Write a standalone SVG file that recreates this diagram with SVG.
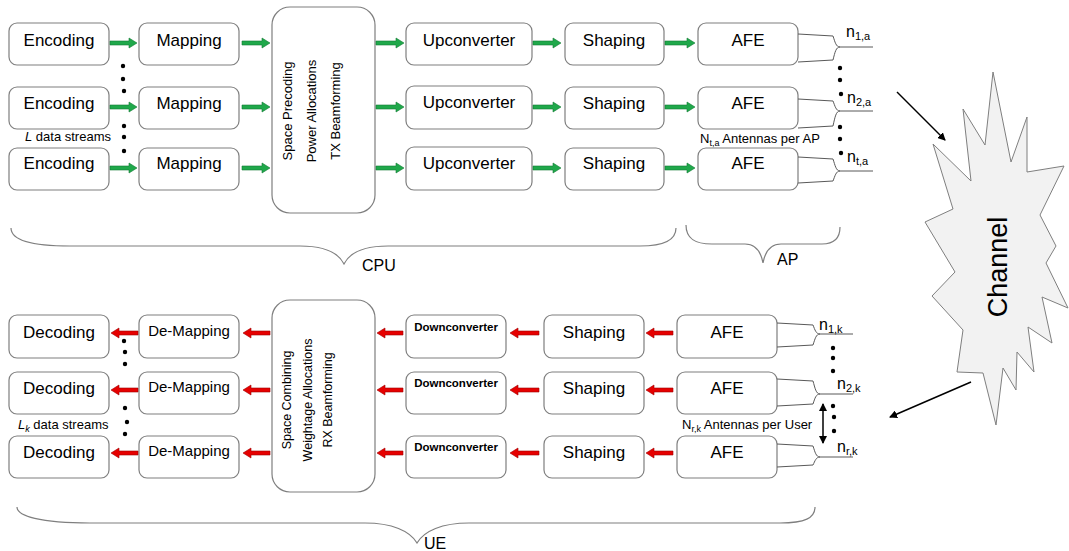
<svg xmlns="http://www.w3.org/2000/svg" width="1069" height="551" viewBox="0 0 1069 551">
<defs>
<style>
.box{fill:#fff;stroke:#7f7f7f;stroke-width:1.2}
.t{font-family:"Liberation Sans",Arial,sans-serif;fill:#000;text-anchor:middle}
.l17{font-size:17px}
.l15{font-size:15px}
.dc{font-size:11.5px;font-weight:bold}
.v13{font-size:13px}
.v12{font-size:12.5px}
.s{font-family:"Liberation Sans",Arial,sans-serif;fill:#000}
.ga{fill:#1fa84a;stroke:#127a34;stroke-width:0.6}
.ra{fill:#e60000;stroke:#a00000;stroke-width:0.6}
.ant{fill:none;stroke:#595959;stroke-width:1}
.brace{fill:none;stroke:#7f7f7f;stroke-width:1.2}
.dot{fill:#000}
.blk{stroke:#000;stroke-width:1.5;fill:none}
</style>
<marker id="ah" markerWidth="8" markerHeight="8" refX="7" refY="4" orient="auto" markerUnits="userSpaceOnUse">
<path d="M0,0 L8,4 L0,8 Z" fill="#000"/>
</marker>
<marker id="ahs" markerWidth="8" markerHeight="8" refX="1" refY="4" orient="auto" markerUnits="userSpaceOnUse">
<path d="M8,0 L0,4 L8,8 Z" fill="#000"/>
</marker>
</defs>
<rect width="1069" height="551" fill="#fff"/>

<!-- Top (transmit) nodes -->
<g id="enc1"><rect class="box" x="9" y="23" width="100" height="42" rx="8"/><text class="t l17" x="59" y="46">Encoding</text></g>
<g id="enc2"><rect class="box" x="9" y="87" width="100" height="42" rx="8"/><text class="t l17" x="59" y="109">Encoding</text></g>
<g id="enc3"><rect class="box" x="9" y="148" width="100" height="42" rx="8"/><text class="t l17" x="59" y="169">Encoding</text></g>
<g id="map1"><rect class="box" x="139" y="23" width="100" height="42" rx="8"/><text class="t l17" x="189" y="46">Mapping</text></g>
<g id="map2"><rect class="box" x="139" y="87" width="100" height="42" rx="8"/><text class="t l17" x="189" y="109">Mapping</text></g>
<g id="map3"><rect class="box" x="139" y="148" width="100" height="42" rx="8"/><text class="t l17" x="189" y="169">Mapping</text></g>
<g id="precoder"><rect class="box" x="272" y="7" width="103" height="206" rx="18"/>
<text class="t v13" transform="translate(292,111) rotate(-90)">Space Precoding</text>
<text class="t v13" transform="translate(316,111) rotate(-90)">Power Allocations</text>
<text class="t v13" transform="translate(340,111) rotate(-90)">TX Beamforming</text></g>
<g id="up1"><rect class="box" x="406" y="23" width="126" height="42" rx="8"/><text class="t l17" x="469" y="46">Upconverter</text></g>
<g id="up2"><rect class="box" x="406" y="86" width="126" height="43" rx="8"/><text class="t l17" x="469" y="108">Upconverter</text></g>
<g id="up3"><rect class="box" x="406" y="147" width="126" height="43" rx="8"/><text class="t l17" x="469" y="169">Upconverter</text></g>
<g id="shp1"><rect class="box" x="565" y="23" width="99" height="42" rx="8"/><text class="t l17" x="614" y="46">Shaping</text></g>
<g id="shp2"><rect class="box" x="565" y="87" width="99" height="42" rx="8"/><text class="t l17" x="614" y="109">Shaping</text></g>
<g id="shp3"><rect class="box" x="565" y="148" width="99" height="42" rx="8"/><text class="t l17" x="614" y="169">Shaping</text></g>
<g id="afe1"><rect class="box" x="698" y="23" width="100" height="42" rx="8"/><text class="t l17" x="748" y="46">AFE</text></g>
<g id="afe2"><rect class="box" x="698" y="87" width="100" height="42" rx="8"/><text class="t l17" x="748" y="109">AFE</text></g>
<g id="afe3"><rect class="box" x="698" y="148" width="100" height="42" rx="8"/><text class="t l17" x="748" y="169">AFE</text></g>

<!-- Bottom (receive) nodes -->
<g id="dec1"><rect class="box" x="9" y="315" width="100" height="43" rx="8"/><text class="t l17" x="59" y="338">Decoding</text></g>
<g id="dec2"><rect class="box" x="9" y="372" width="100" height="42" rx="8"/><text class="t l17" x="59" y="394">Decoding</text></g>
<g id="dec3"><rect class="box" x="9" y="436" width="100" height="42" rx="8"/><text class="t l17" x="59" y="458">Decoding</text></g>
<g id="dmap1"><rect class="box" x="139" y="315" width="100" height="43" rx="8"/><text class="t l15" x="189" y="336">De-Mapping</text></g>
<g id="dmap2"><rect class="box" x="139" y="372" width="100" height="42" rx="8"/><text class="t l15" x="189" y="392">De-Mapping</text></g>
<g id="dmap3"><rect class="box" x="139" y="436" width="100" height="42" rx="8"/><text class="t l15" x="189" y="456">De-Mapping</text></g>
<g id="combiner"><rect class="box" x="272" y="300" width="103" height="192" rx="18"/>
<text class="t v12" transform="translate(291,400) rotate(-90)">Space Combining</text>
<text class="t v12" transform="translate(312,400) rotate(-90)">Weightage Allocations</text>
<text class="t v12" transform="translate(332,400) rotate(-90)">RX Beamforming</text></g>
<g id="dn1"><rect class="box" x="406" y="315" width="100" height="43" rx="8"/><text class="t dc" x="456" y="331">Downconverter</text></g>
<g id="dn2"><rect class="box" x="406" y="372" width="100" height="42" rx="8"/><text class="t dc" x="456" y="387">Downconverter</text></g>
<g id="dn3"><rect class="box" x="406" y="436" width="100" height="42" rx="8"/><text class="t dc" x="456" y="451">Downconverter</text></g>
<g id="rshp1"><rect class="box" x="544" y="315" width="100" height="43" rx="8"/><text class="t l17" x="594" y="338">Shaping</text></g>
<g id="rshp2"><rect class="box" x="544" y="372" width="100" height="42" rx="8"/><text class="t l17" x="594" y="394">Shaping</text></g>
<g id="rshp3"><rect class="box" x="544" y="436" width="100" height="42" rx="8"/><text class="t l17" x="594" y="458">Shaping</text></g>
<g id="rafe1"><rect class="box" x="677" y="315" width="100" height="43" rx="8"/><text class="t l17" x="727" y="338">AFE</text></g>
<g id="rafe2"><rect class="box" x="677" y="372" width="100" height="42" rx="8"/><text class="t l17" x="727" y="394">AFE</text></g>
<g id="rafe3"><rect class="box" x="677" y="436" width="100" height="42" rx="8"/><text class="t l17" x="727" y="458">AFE</text></g>

<!-- Channel -->
<g id="channel">
<polygon points="993,72 1011,162 1027,117 1027,172 1064,166 1040,215 1056,246 1046,263 1068,308 1042,297 1052,343 1028,327 1034,372 1017,352 1016,390 1003,368 996,425 983,373 957,372 963,330 932,296 955,272 925,222 953,209 933,144 971,181 963,109 985,145" fill="#f2f2f2" stroke="#7f7f7f" stroke-width="1"/>
<text class="t" font-size="27" transform="translate(1007,267) rotate(-90)">Channel</text>
</g>

<!-- Connectors -->
<g id="connectors">
<!-- green arrows -->
<g class="ga">
<path d="M110,41 L129,41 L129,38 L137,43 L129,48 L129,45 L110,45 Z"/>
<path d="M110,105 L129,105 L129,102 L137,107 L129,112 L129,109 L110,109 Z"/>
<path d="M110,166 L129,166 L129,163 L137,168 L129,173 L129,170 L110,170 Z"/>
<path d="M242,41 L262,41 L262,38 L270,43 L262,48 L262,45 L242,45 Z"/>
<path d="M242,105 L262,105 L262,102 L270,107 L262,112 L262,109 L242,109 Z"/>
<path d="M242,166 L262,166 L262,163 L270,168 L262,173 L262,170 L242,170 Z"/>
<path d="M376,41 L396,41 L396,38 L404,43 L396,48 L396,45 L376,45 Z"/>
<path d="M376,105 L396,105 L396,102 L404,107 L396,112 L396,109 L376,109 Z"/>
<path d="M376,166 L396,166 L396,163 L404,168 L396,173 L396,170 L376,170 Z"/>
<path d="M533,41 L553,41 L553,38 L561,43 L553,48 L553,45 L533,45 Z"/>
<path d="M533,105 L553,105 L553,102 L561,107 L553,112 L553,109 L533,109 Z"/>
<path d="M533,166 L553,166 L553,163 L561,168 L553,173 L553,170 L533,170 Z"/>
<path d="M665,41 L687,41 L687,38 L695,43 L687,48 L687,45 L665,45 Z"/>
<path d="M665,105 L687,105 L687,102 L695,107 L687,112 L687,109 L665,109 Z"/>
<path d="M665,166 L687,166 L687,163 L695,168 L687,173 L687,170 L665,170 Z"/>
</g>
<!-- red arrows -->
<g class="ra">
<path d="M138,331 L119,331 L119,328 L111,333 L119,338 L119,335 L138,335 Z"/>
<path d="M138,388 L119,388 L119,385 L111,390 L119,395 L119,392 L138,392 Z"/>
<path d="M138,451 L119,451 L119,448 L111,453 L119,458 L119,455 L138,455 Z"/>
<path d="M270,331 L251,331 L251,328 L243,333 L251,338 L251,335 L270,335 Z"/>
<path d="M270,388 L251,388 L251,385 L243,390 L251,395 L251,392 L270,392 Z"/>
<path d="M270,451 L251,451 L251,448 L243,453 L251,458 L251,455 L270,455 Z"/>
<path d="M403,331 L385,331 L385,328 L377,333 L385,338 L385,335 L403,335 Z"/>
<path d="M403,388 L385,388 L385,385 L377,390 L385,395 L385,392 L403,392 Z"/>
<path d="M403,451 L385,451 L385,448 L377,453 L385,458 L385,455 L403,455 Z"/>
<path d="M539,331 L518,331 L518,328 L510,333 L518,338 L518,335 L539,335 Z"/>
<path d="M539,388 L518,388 L518,385 L510,390 L518,395 L518,392 L539,392 Z"/>
<path d="M539,451 L518,451 L518,448 L510,453 L518,458 L518,455 L539,455 Z"/>
<path d="M673,331 L654,331 L654,328 L646,333 L654,338 L654,335 L673,335 Z"/>
<path d="M673,388 L654,388 L654,385 L646,390 L654,395 L654,392 L673,392 Z"/>
<path d="M673,451 L654,451 L654,448 L646,453 L654,458 L654,455 L673,455 Z"/>
</g>
<!-- antennas AP -->
<path class="ant" d="M798,34 L833,36 C835,42 836,47 840,47 L873,47 M798,62 L833,60 C835,52 836,47 840,47"/>
<path class="ant" d="M798,99 L833,101 C835,106 836,111 840,111 L873,111 M798,128 L833,126 C835,117 836,111 840,111"/>
<path class="ant" d="M798,157 L833,159 C835,165 836,171 840,171 L873,171 M798,183 L833,181 C835,176 836,171 840,171"/>
<!-- antennas UE -->
<path class="ant" d="M777,323 L813,325 C815,330 816,334 820,334 L853,334 M777,347 L813,345 C815,339 816,334 820,334"/>
<path class="ant" d="M777,379 L813,381 C815,388 816,394 820,394 L853,394 M777,406 L813,404 C815,398 816,394 820,394"/>
<path class="ant" d="M777,444 L813,446 C815,452 816,457 820,457 L853,457 M777,467 L813,465 C815,461 816,457 820,457"/>
<!-- channel arrows -->
<line class="blk" x1="897" y1="92" x2="945" y2="140" marker-end="url(#ah)"/>
<line class="blk" x1="971" y1="382" x2="890" y2="417" marker-end="url(#ah)"/>
<!-- double arrow -->
<line class="blk" x1="823" y1="404" x2="823" y2="443" marker-start="url(#ahs)" marker-end="url(#ah)"/>
</g>

<!-- dots -->
<g id="dots" class="dot">
<circle cx="123" cy="66" r="2.2"/><circle cx="123" cy="79" r="2.2"/><circle cx="124" cy="91" r="2.2"/>
<circle cx="124" cy="126" r="2.2"/><circle cx="124" cy="137" r="2.2"/><circle cx="124" cy="151" r="2.2"/>
<circle cx="840" cy="68" r="2.2"/><circle cx="840" cy="80" r="2.2"/><circle cx="841" cy="94" r="2.2"/>
<circle cx="840" cy="127" r="2.2"/><circle cx="840" cy="139" r="2.2"/><circle cx="841" cy="153" r="2.2"/>
<circle cx="124" cy="341" r="2.2"/><circle cx="125" cy="352" r="2.2"/><circle cx="125" cy="364" r="2.2"/>
<circle cx="125" cy="408" r="2.2"/><circle cx="127" cy="422" r="2.2"/><circle cx="125" cy="434" r="2.2"/>
<circle cx="833" cy="348" r="2.2"/><circle cx="833" cy="358" r="2.2"/><circle cx="833" cy="371" r="2.2"/>
<circle cx="833" cy="406" r="2.2"/><circle cx="834" cy="417" r="2.2"/><circle cx="834" cy="431" r="2.2"/>
</g>

<!-- braces -->
<g id="braces">
<path class="brace" d="M11,228 C11,240 30,246 70,246 L300,246 C325,246 338,252 344,264 C350,252 363,246 388,246 L640,246 C665,246 676,240 676,228"/>
<path class="brace" d="M686,225 C686,238 694,244 712,244 L745,244 C756,244 761,252 763,263 C765,252 770,244 781,244 L822,244 C834,244 840,238 840,227"/>
<path class="brace" d="M17,507 C17,516 40,523 90,523 L365,523 C392,523 410,531 417,543 C424,531 442,523 469,523 L780,523 C805,523 815,518 815,507"/>
</g>

<!-- labels -->
<g id="labels">
<text class="s" font-size="16" x="362" y="271">CPU</text>
<text class="s" font-size="16" x="777" y="265">AP</text>
<text class="s" font-size="16" x="424" y="549">UE</text>
<text class="s" font-size="13" x="25" y="141"><tspan font-style="italic">L</tspan> data streams</text>
<text class="s" font-size="13" x="18" y="429"><tspan font-style="italic">L</tspan><tspan font-style="italic" font-size="9" dy="3">k</tspan><tspan dy="-3"> data streams</tspan></text>
<text class="s" font-size="13" x="700" y="143">N<tspan font-size="9" dy="3">t,a</tspan><tspan dy="-3"> Antennas per AP</tspan></text>
<text class="s" font-size="13" x="682" y="429">N<tspan font-size="9" dy="3">r,k</tspan><tspan dy="-3"> Antennas per User</tspan></text>
<text class="s" font-size="16" x="846" y="37">n<tspan font-size="11" dy="3">1,a</tspan></text>
<text class="s" font-size="16" x="847" y="103">n<tspan font-size="11" dy="3">2,a</tspan></text>
<text class="s" font-size="16" x="847" y="162">n<tspan font-size="11" dy="3">t,a</tspan></text>
<text class="s" font-size="16" x="819" y="330">n<tspan font-size="11" dy="3">1,k</tspan></text>
<text class="s" font-size="16" x="837" y="389">n<tspan font-size="11" dy="3">2,k</tspan></text>
<text class="s" font-size="16" x="837" y="452">n<tspan font-size="11" dy="3">r,k</tspan></text>
</g>
</svg>
